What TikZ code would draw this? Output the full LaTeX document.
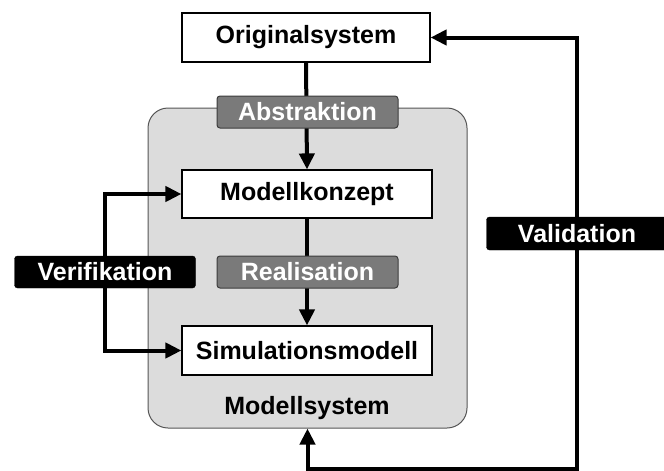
\documentclass[tikz,border=0pt]{standalone}
\usepackage{fontspec}
\setmainfont{Liberation Sans}
\usetikzlibrary{arrows.meta}
\definecolor{panelgray}{RGB}{220,220,220}
\definecolor{paneledge}{RGB}{85,85,85}
\definecolor{taggray}{RGB}{122,122,122}
\definecolor{tagedge}{RGB}{60,60,60}
\begin{document}
\begin{tikzpicture}[x=1pt,y=-1pt,
  every node/.style={font=\fontsize{25}{28}\selectfont\bfseries, inner sep=0pt},
  whitebox/.style={draw=black, line width=1.1pt, fill=white, text=black},
  graytag/.style={draw=tagedge, line width=1pt, fill=taggray, text=white,
    rounded corners=3pt, minimum width=181pt, minimum height=32pt},
  blacktag/.style={draw=black, fill=black, text=white,
    rounded corners=3pt, minimum width=181pt, minimum height=32pt},
  flow/.style={line width=4pt, -{Triangle[length=16pt,width=15pt]}},
  twoway/.style={line width=4pt, {Triangle[length=16pt,width=15pt]}-{Triangle[length=16pt,width=15pt]}}
]
\useasboundingbox (0,0) rectangle (664,471);

% model system panel
\node[draw=paneledge, line width=1pt, fill=panelgray, rounded corners=20pt,
  minimum width=319pt, minimum height=320pt] (panel) at (307.5,268) {};
\node (ms) at (307,408) {Modellsystem};

% boxes
\node[whitebox, minimum width=248pt, minimum height=49pt] (orig) at (306,37.5) {Originalsystem};
\node[whitebox, minimum width=250pt, minimum height=48pt] (mk) at (307,194) {Modellkonzept};
\node[whitebox, minimum width=250pt, minimum height=49pt] (sim) at (307,350.5) {Simulationsmodell};

% helper corners
\coordinate (vl) at (105,272);
\coordinate (vr) at (577,469);

% connectors
\draw[flow] (orig.south) -- (mk.north);
\draw[flow] (mk.south) -- (sim.north);
\draw[twoway] (mk.west) -| (vl) |- (sim.west);
\draw[twoway] (orig.east) -| (vr) -| (panel.south);

% labels on the connectors
\node[graytag] (abs) at (307.5,112) {Abstraktion};
\node[graytag] (real) at (307.5,272) {Realisation};
\node[blacktag] (ver) at (vl) {Verifikation};
\node[blacktag, minimum height=33pt] (val) at (577,233.5) {Validation};
\end{tikzpicture}
\end{document}
